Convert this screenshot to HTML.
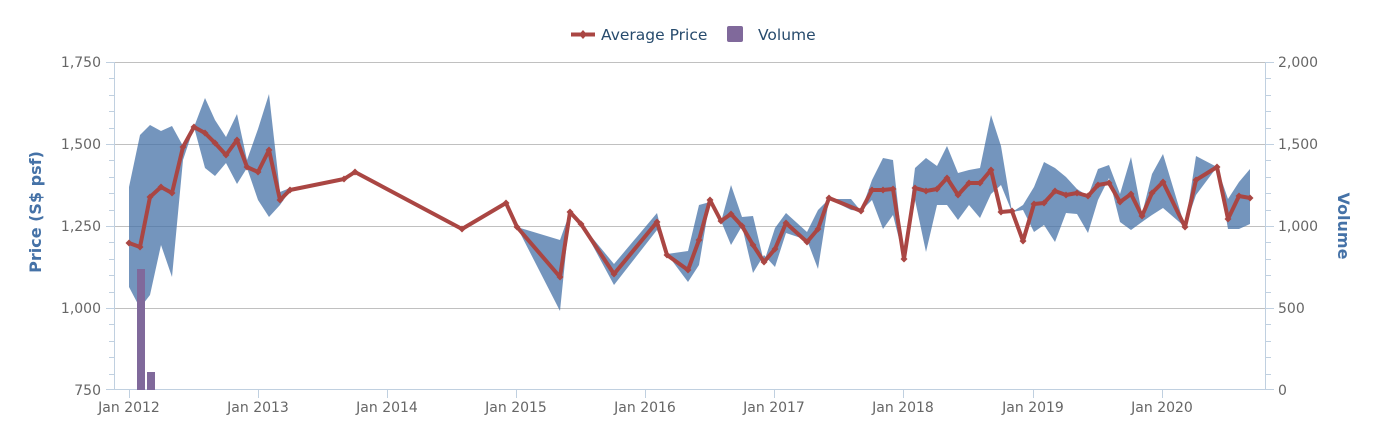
<!DOCTYPE html>
<html><head><meta charset="utf-8"><style>body{margin:0;background:#fff}svg{display:block}text{font-family:"DejaVu Sans","Liberation Sans",sans-serif}</style></head><body>
<svg width="1380" height="436" viewBox="0 0 1380 436">
<defs><path id="m" d="M0 -3.5L3.5 0 0 3.5 -3.5 0z" fill="#aa4643"/></defs>
<g stroke="#c0c0c0" stroke-width="1">
<line x1="114" y1="62.5" x2="1266" y2="62.5"/><line x1="114" y1="144.5" x2="1266" y2="144.5"/><line x1="114" y1="226.5" x2="1266" y2="226.5"/><line x1="114" y1="308.5" x2="1266" y2="308.5"/>
</g>
<g stroke="#c0d0e0" stroke-width="1">
<line x1="114.5" y1="62" x2="114.5" y2="390"/><line x1="1265.5" y1="62" x2="1265.5" y2="390"/><line x1="114" y1="389.5" x2="1266" y2="389.5"/>
<path d="M106 62.5h8M106 144.5h8M106 226.5h8M106 308.5h8M106 389.5h8M1266 62.5h8M1266 144.5h8M1266 226.5h8M1266 308.5h8M1266 389.5h8"/>
<path d="M109 78.5h5M109 95.5h5M109 111.5h5M109 128.5h5M109 160.5h5M109 177.5h5M109 193.5h5M109 210.5h5M109 242.5h5M109 259.5h5M109 275.5h5M109 292.5h5M109 324.5h5M109 341.5h5M109 357.5h5M109 374.5h5"/>
<path d="M1266 78.5h5M1266 95.5h5M1266 111.5h5M1266 128.5h5M1266 160.5h5M1266 177.5h5M1266 193.5h5M1266 210.5h5M1266 242.5h5M1266 259.5h5M1266 275.5h5M1266 292.5h5M1266 324.5h5M1266 341.5h5M1266 357.5h5M1266 374.5h5"/>
<path d="M129.5 390v8M258.5 390v8M387.5 390v8M516.5 390v8M645.5 390v8M774.5 390v8M903.5 390v8M1033.5 390v8M1162.5 390v8"/>
</g>
<g fill="#4572a7" fill-opacity="0.75">
<polygon points="129,187 140,135 150,125 161,131 172,126 183,146 194,127 205,98 215,120 226,137 237,114 247,160 258,129 269,94 280,192 290,188 290,191 280,205 269,217 258,200 247,168 237,184 226,163 215,176 205,168 194,127 183,160 172,277 161,245 150,295 140,308 129,287"/>
<polygon points="517,227 560,240 570,212 581,224 614,264 657,213 667,254 688,251 699,205 710,202 721,222 731,185 742,217 753,216 764,262 775,228 786,213 807,232 818,210 829,199 851,199 861,211 872,180 883,158 893,160 904,259 915,168 926,158 937,166 947,146 958,173 969,170 980,168 991,115 1001,146 1012,212 1023,205 1034,187 1044,162 1055,168 1066,177 1077,189 1088,196 1098,169 1109,165 1120,194 1131,157 1142,214 1152,174 1163,154 1185,227 1196,156 1217,167 1228,199 1239,182 1250,169 1250,224 1239,229 1228,229 1217,167 1196,195 1185,227 1163,208 1152,215 1142,222 1131,230 1120,222 1109,178 1098,200 1088,233 1077,214 1066,213 1055,242 1044,225 1034,232 1023,210 1012,212 1001,185 991,194 980,218 969,205 958,220 947,205 937,205 926,252 915,200 904,259 893,215 883,229 872,200 861,211 851,210 829,199 818,269 807,240 786,233 775,267 764,255 753,273 742,226 731,245 721,221 710,200 699,265 688,282 667,254 657,230 614,285 581,224 570,212 560,311 517,227"/>
</g>
<rect x="137" y="269" width="8" height="121" fill="#80699b"/>
<rect x="147" y="372" width="8" height="18" fill="#80699b"/>
<polyline id="pl" fill="none" stroke="#aa4643" stroke-width="4" stroke-linejoin="round" points="129,243 140,247 150,197 161,187 172,193 183,147 194,127 205,133 215,143 226,155 237,140 247,167 258,172 269,150 280,200 290,190 344,179 355,172 462,229 506,203 517,227 560,277 570,212 581,224 614,274 657,222 667,255 688,270 699,240 710,200 721,221 731,214 742,226 753,245 764,262 775,249 786,223 807,242 818,229 829,198 861,211 872,190 883,190 893,189 904,259 915,188 926,191 937,189 947,178 958,195 969,183 980,183 991,170 1001,212 1012,211 1023,241 1034,204 1044,203 1055,191 1066,195 1077,193 1088,196 1098,185 1109,183 1120,202 1131,194 1142,216 1152,193 1163,182 1185,227 1196,180 1217,167 1228,219 1239,196 1250,198"/>
<g>
<use href="#m" x="129" y="243"/><use href="#m" x="140" y="247"/><use href="#m" x="150" y="197"/><use href="#m" x="161" y="187"/><use href="#m" x="172" y="193"/><use href="#m" x="183" y="147"/><use href="#m" x="194" y="127"/><use href="#m" x="205" y="133"/><use href="#m" x="215" y="143"/><use href="#m" x="226" y="155"/><use href="#m" x="237" y="140"/><use href="#m" x="247" y="167"/><use href="#m" x="258" y="172"/><use href="#m" x="269" y="150"/><use href="#m" x="280" y="200"/><use href="#m" x="290" y="190"/><use href="#m" x="344" y="179"/><use href="#m" x="355" y="172"/><use href="#m" x="462" y="229"/><use href="#m" x="506" y="203"/><use href="#m" x="517" y="227"/><use href="#m" x="560" y="277"/><use href="#m" x="570" y="212"/><use href="#m" x="581" y="224"/><use href="#m" x="614" y="274"/><use href="#m" x="657" y="222"/><use href="#m" x="667" y="255"/><use href="#m" x="688" y="270"/><use href="#m" x="699" y="240"/><use href="#m" x="710" y="200"/><use href="#m" x="721" y="221"/><use href="#m" x="731" y="214"/><use href="#m" x="742" y="226"/><use href="#m" x="753" y="245"/><use href="#m" x="764" y="262"/><use href="#m" x="775" y="249"/><use href="#m" x="786" y="223"/><use href="#m" x="807" y="242"/><use href="#m" x="818" y="229"/><use href="#m" x="829" y="198"/><use href="#m" x="861" y="211"/><use href="#m" x="872" y="190"/><use href="#m" x="883" y="190"/><use href="#m" x="893" y="189"/><use href="#m" x="904" y="259"/><use href="#m" x="915" y="188"/><use href="#m" x="926" y="191"/><use href="#m" x="937" y="189"/><use href="#m" x="947" y="178"/><use href="#m" x="958" y="195"/><use href="#m" x="969" y="183"/><use href="#m" x="980" y="183"/><use href="#m" x="991" y="170"/><use href="#m" x="1001" y="212"/><use href="#m" x="1012" y="211"/><use href="#m" x="1023" y="241"/><use href="#m" x="1034" y="204"/><use href="#m" x="1044" y="203"/><use href="#m" x="1055" y="191"/><use href="#m" x="1066" y="195"/><use href="#m" x="1077" y="193"/><use href="#m" x="1088" y="196"/><use href="#m" x="1098" y="185"/><use href="#m" x="1109" y="183"/><use href="#m" x="1120" y="202"/><use href="#m" x="1131" y="194"/><use href="#m" x="1142" y="216"/><use href="#m" x="1152" y="193"/><use href="#m" x="1163" y="182"/><use href="#m" x="1185" y="227"/><use href="#m" x="1196" y="180"/><use href="#m" x="1217" y="167"/><use href="#m" x="1228" y="219"/><use href="#m" x="1239" y="196"/><use href="#m" x="1250" y="198"/>
</g>
<g font-size="14" fill="#666" text-anchor="end">
<text x="101" y="67">1,750</text><text x="101" y="149">1,500</text><text x="101" y="231">1,250</text><text x="101" y="313">1,000</text><text x="101" y="395">750</text>
</g>
<g font-size="14" fill="#666">
<text x="1278" y="67">2,000</text><text x="1278" y="149">1,500</text><text x="1278" y="231">1,000</text><text x="1278" y="313">500</text><text x="1278" y="395">0</text>
</g>
<g font-size="14" fill="#666" text-anchor="middle">
<text x="129" y="412">Jan 2012</text><text x="258" y="412">Jan 2013</text><text x="387" y="412">Jan 2014</text><text x="516" y="412">Jan 2015</text><text x="645" y="412">Jan 2016</text><text x="774" y="412">Jan 2017</text><text x="903" y="412">Jan 2018</text><text x="1033" y="412">Jan 2019</text><text x="1162" y="412">Jan 2020</text>
</g>
<text transform="translate(41,212) rotate(-90)" text-anchor="middle" font-size="16" font-weight="bold" fill="#4572a7">Price (S$ psf)</text>
<text transform="translate(1338,226) rotate(90)" text-anchor="middle" font-size="16" font-weight="bold" fill="#4572a7">Volume</text>
<line x1="571" y1="34.5" x2="595" y2="34.5" stroke="#aa4643" stroke-width="4"/>
<path d="M583 30l4 4.5-4 4.5-4-4.5z" fill="#aa4643"/>
<text x="601" y="40" font-size="15.5" fill="#274b6d">Average Price</text>
<rect x="727" y="26" width="16" height="16" rx="2" fill="#80699b"/>
<text x="758" y="40" font-size="15.5" fill="#274b6d">Volume</text>
</svg>
</body></html>
